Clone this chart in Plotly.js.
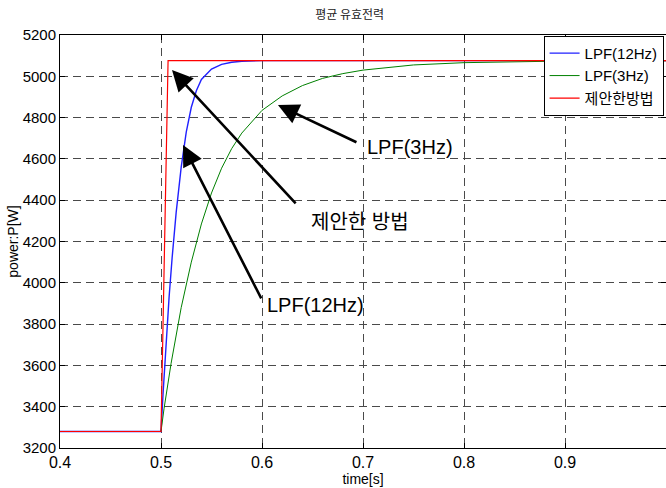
<!DOCTYPE html>
<html>
<head>
<meta charset="utf-8">
<script src="https://cdn.plot.ly/plotly-3.0.1.min.js"></script>
<style>html,body{margin:0;padding:0;background:#fff;}#chart{width:666px;height:488px;}</style>
</head>
<body>
<div id="chart"></div>
<script>
// LPF(12Hz)
const t12 = [0.4, 0.5, 0.502, 0.505, 0.508, 0.511, 0.515, 0.52, 0.525, 0.53, 0.535, 0.54, 0.55, 0.56, 0.57, 0.58, 0.6, 0.7, 0.8, 0.9, 1.0];
const p12 = [3280, 3280, 3460, 3700, 3930, 4120, 4340, 4560, 4730, 4850, 4930, 4985, 5035, 5058, 5068, 5073, 5076, 5076, 5076, 5076, 5076];
// LPF(3Hz)
const t3 = [0.4, 0.5, 0.503, 0.51, 0.52, 0.53, 0.54, 0.55, 0.56, 0.57, 0.58, 0.6, 0.62, 0.64, 0.66, 0.68, 0.7, 0.75, 0.8, 0.85, 0.9, 1.0];
const p3 = [3280, 3280, 3390, 3610, 3880, 4100, 4285, 4435, 4555, 4650, 4725, 4835, 4905, 4955, 4990, 5013, 5030, 5055, 5066, 5071, 5074, 5075];
// 제안한방법
const tP = [0.4, 0.5, 0.507, 0.6, 0.7, 0.8, 0.9, 1.0];
const pP = [3280, 3280, 5076, 5076, 5076, 5076, 5076, 5076];

const names = ['LPF(12Hz)', 'LPF(3Hz)', '제안한방법'];
const xTicks = [0.4, 0.5, 0.6, 0.7, 0.8, 0.9, 1];
const xTickText = ['0.4', '0.5', '0.6', '0.7', '0.8', '0.9', '1'];
const yTicks = [3200, 3400, 3600, 3800, 4000, 4200, 4400, 4600, 4800, 5000, 5200];

const traces = [
  {x: t12, y: p12, name: names[0], mode: 'lines', line: {color: '#2020ff', width: 1.4}},
  {x: t3, y: p3, name: names[1], mode: 'lines', line: {color: '#008000', width: 1}},
  {x: tP, y: pP, name: names[2], mode: 'lines', line: {color: '#ff0000', width: 1.2}}
];

const fontK = '"Liberation Sans", Arial, "Noto Sans CJK KR", sans-serif';

function arrow(tipX, tipY, tailX, tailY) {
  return {x: tipX, y: tipY, ax: tailX, ay: tailY, xref: 'x', yref: 'y', axref: 'x', ayref: 'y',
    text: '', showarrow: true, arrowhead: 2, arrowsize: 1.6, arrowwidth: 2.6, arrowcolor: '#000'};
}
function label(x, y, txt) {
  return {x: x, y: y, xref: 'x', yref: 'y', text: txt, showarrow: false,
    font: {family: fontK, size: 20, color: '#000'}};
}

const layout = {
  width: 666, height: 488,
  margin: {l: 60, r: 0, t: 35, b: 40},
  paper_bgcolor: '#fff', plot_bgcolor: '#fff',
  title: {text: '평균 유효전력', x: 0.525, xref: 'container', y: 0.97, yanchor: 'middle',
    font: {family: '"Noto Sans CJK KR", sans-serif', size: 12, color: '#222'}},
  showlegend: true,
  legend: {x: 0.996, xanchor: 'right', y: 0.998, yanchor: 'top', bgcolor: '#fff',
    bordercolor: '#000', borderwidth: 1, font: {family: fontK, size: 15, color: '#000'},
    tracegroupgap: 0, itemwidth: 30},
  xaxis: {range: [0.4, 1.0], tickvals: xTicks, ticktext: xTickText, ticks: 'inside', ticklen: 5,
    tickcolor: '#000', showline: true, linecolor: '#000', linewidth: 1, mirror: 'ticks',
    showgrid: true, gridcolor: '#4a4a4a', griddash: '8px,5px', gridwidth: 1, zeroline: false,
    tickfont: {family: fontK, size: 16, color: '#000'},
    title: {text: 'time[s]', font: {family: fontK, size: 14, color: '#000'}, standoff: 1}},
  yaxis: {range: [3200, 5200], tickvals: yTicks, ticks: 'inside', ticklen: 5,
    tickcolor: '#000', showline: true, linecolor: '#000', linewidth: 1, mirror: 'ticks',
    showgrid: true, gridcolor: '#4a4a4a', griddash: '8px,5px', gridwidth: 1, zeroline: false,
    tickfont: {family: fontK, size: 15, color: '#000'},
    title: {text: 'power:P[W]', font: {family: fontK, size: 14, color: '#000'}, standoff: 0}},
  annotations: [
    arrow(0.6158, 4861, 0.695, 4677),
    arrow(0.5109, 5030, 0.6347, 4377),
    arrow(0.5218, 4667, 0.600, 3917),
    label(0.7465, 4658, 'LPF(3Hz)'),
    label(0.697, 4294, '제안한 방법'),
    label(0.6525, 3892, 'LPF(12Hz)')
  ]
};

Plotly.newPlot('chart', traces, layout, {displayModeBar: false, staticPlot: true});
</script>
</body>
</html>
